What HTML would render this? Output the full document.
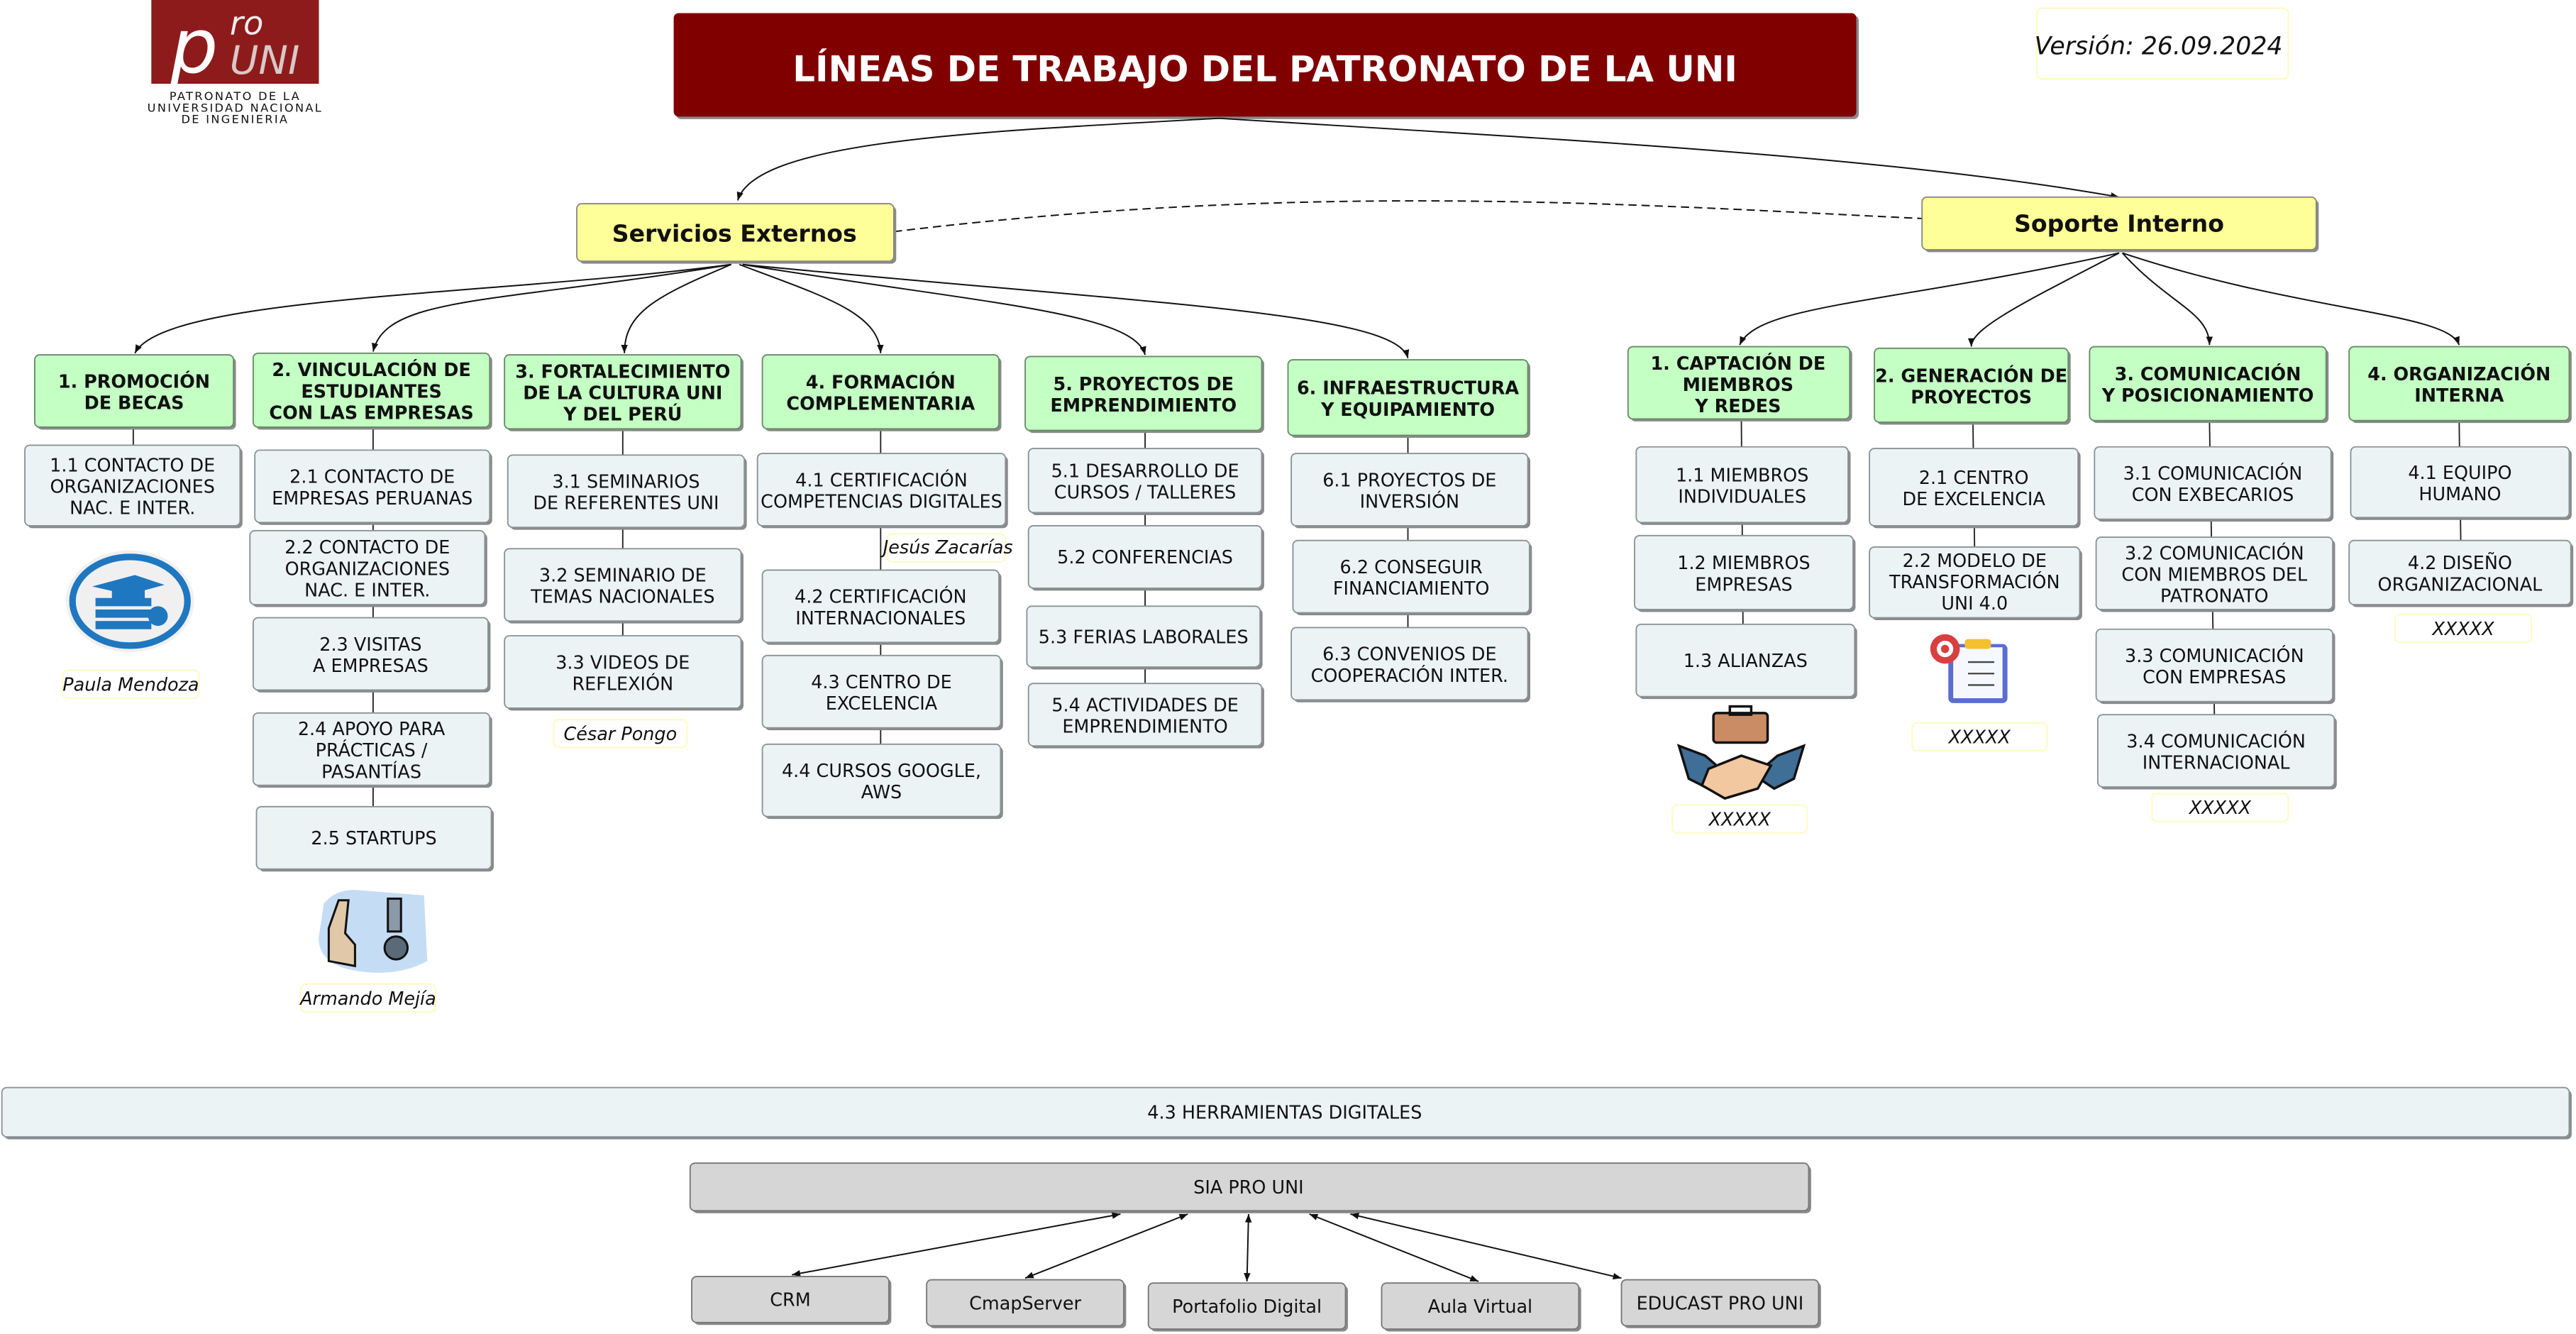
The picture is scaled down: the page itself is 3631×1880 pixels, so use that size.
<!DOCTYPE html>
<html><head><meta charset="utf-8">
<style>
html,body{margin:0;padding:0;background:#fff;}
svg{display:block;}
text{font-family:"DejaVu Sans","Liberation Sans",sans-serif;text-anchor:middle;fill:#111;}
.h{font-size:11px;font-weight:bold;}
.t{font-size:11px;}
.i{font-size:11px;font-style:italic;}
.g{fill:#c4ffc4;stroke:#6a8a6a;stroke-width:0.8;}
.l{fill:#ecf3f5;stroke:#8a9396;stroke-width:0.8;}
.y{fill:#ffff99;stroke:#888;stroke-width:0.8;}
.d{fill:#d6d6d6;stroke:#777;stroke-width:0.8;}
.n{fill:#fff;stroke:#fdfbc8;stroke-width:1;}
.s{fill:#8a8a8a;}
.c{fill:none;stroke:#111;stroke-width:0.85;}
.v{stroke:#222;stroke-width:0.8;}
</style></head>
<body>
<svg width="3631" height="1880" viewBox="0 0 1568 812" xmlns="http://www.w3.org/2000/svg">
<defs>
<marker id="a" viewBox="0 0 10 10" refX="10" refY="5" markerWidth="6" markerHeight="6" orient="auto-start-reverse"><path d="M0,1 L10,5 L0,9 z" fill="#111"/></marker>
</defs>

<!-- logo -->
<rect x="92" y="0" width="102" height="51" fill="#8e1b1b"/>
<text x="118" y="44" style="font-family:'DejaVu Sans';font-style:italic;font-size:46px;fill:#fff;">p</text>
<text x="150" y="21" style="font-family:'DejaVu Sans';font-style:italic;font-size:20px;fill:#eee;">ro</text>
<text x="161" y="45" style="font-family:'DejaVu Sans';font-style:italic;font-size:24px;fill:#d8c8c8;">UNI</text>
<text x="143" y="61" style="font-size:7px;letter-spacing:1px;">PATRONATO DE LA</text>
<text x="143" y="68" style="font-size:7px;letter-spacing:1px;">UNIVERSIDAD NACIONAL</text>
<text x="143" y="75" style="font-size:7px;letter-spacing:1px;">DE INGENIERIA</text>

<!-- title -->
<rect x="411.5" y="9.5" width="720" height="63" rx="3" class="s"/>
<rect x="410" y="8" width="720" height="63" rx="3" fill="#800000"/>
<text x="770" y="49.5" style="font-size:21.5px;font-weight:bold;fill:#fff;">LÍNEAS DE TRABAJO DEL PATRONATO DE LA UNI</text>

<rect x="1240" y="5" width="153" height="43" rx="3" class="n"/>
<text x="1314" y="33" style="font-size:15px;font-style:italic;">Versión: 26.09.2024</text>

<!-- main connectors -->
<path class="c" d="M742,72 C600,80 460,85 449,122" marker-end="url(#a)"/>
<path class="c" d="M742,72 C950,85 1150,95 1290,120" marker-end="url(#a)"/>
<path class="c" d="M544,141 C800,110 1000,125 1170,133" stroke-dasharray="5,3"/>

<!-- services arrows -->
<g class="c">
<path d="M445,161 C300,180 100,180 82,215" marker-end="url(#a)"/>
<path d="M445,161 C300,185 235,180 227,214" marker-end="url(#a)"/>
<path d="M445,161 C400,180 380,190 380,215" marker-end="url(#a)"/>
<path d="M450,161 C500,180 535,190 536,215" marker-end="url(#a)"/>
<path d="M452,161 C600,185 690,190 697,216" marker-end="url(#a)"/>
<path d="M452,161 C700,185 850,190 857,218" marker-end="url(#a)"/>
<path d="M1290,154 C1150,185 1070,185 1059,210" marker-end="url(#a)"/>
<path d="M1290,154 C1230,185 1200,200 1200,211" marker-end="url(#a)"/>
<path d="M1292,154 C1320,185 1345,190 1345,210" marker-end="url(#a)"/>
<path d="M1292,154 C1400,190 1490,190 1497,210" marker-end="url(#a)"/>
</g>

<!-- vertical tree lines -->
<g class="v">
<line x1="81" y1="260" x2="81" y2="272"/>
<line x1="227" y1="260" x2="227" y2="492"/>
<line x1="379" y1="261" x2="379" y2="388"/>
<line x1="536" y1="261" x2="536" y2="454"/>
<line x1="697" y1="262" x2="697" y2="417"/>
<line x1="857" y1="265" x2="857" y2="383"/>
<line x1="1060" y1="255" x2="1061" y2="381"/>
<line x1="1201" y1="257" x2="1202" y2="334"/>
<line x1="1345" y1="256" x2="1348" y2="436"/>
<line x1="1497" y1="256" x2="1498" y2="330"/>
</g>

<!-- yellow -->
<rect x="352.5" y="125.5" width="193" height="35" rx="3" class="s"/>
<rect x="351" y="124" width="193" height="35" rx="3" class="y"/>
<text x="447" y="147" style="font-size:14.3px;font-weight:bold;">Servicios Externos</text>
<rect x="1171.5" y="121.5" width="240" height="32" rx="3" class="s"/>
<rect x="1170" y="120" width="240" height="32" rx="3" class="y"/>
<text x="1290" y="141" style="font-size:14.3px;font-weight:bold;">Soporte Interno</text>

<!-- headers -->
<g>
<rect x="22.5" y="217.5" width="121" height="44" rx="3" class="s"/><rect x="21" y="216" width="121" height="44" rx="3" class="g"/>
<text class="h" x="81.5" y="236">1. PROMOCIÓN</text><text class="h" x="81.5" y="249">DE BECAS</text>

<rect x="155.5" y="216.5" width="144" height="45" rx="3" class="s"/><rect x="154" y="215" width="144" height="45" rx="3" class="g"/>
<text class="h" x="226" y="229">2. VINCULACIÓN DE</text><text class="h" x="226" y="242">ESTUDIANTES</text><text class="h" x="226" y="255">CON LAS EMPRESAS</text>

<rect x="308.5" y="217.5" width="144" height="45" rx="3" class="s"/><rect x="307" y="216" width="144" height="45" rx="3" class="g"/>
<text class="h" x="379" y="230">3. FORTALECIMIENTO</text><text class="h" x="379" y="243">DE LA CULTURA UNI</text><text class="h" x="379" y="256">Y DEL PERÚ</text>

<rect x="465.5" y="217.5" width="144" height="45" rx="3" class="s"/><rect x="464" y="216" width="144" height="45" rx="3" class="g"/>
<text class="h" x="536" y="236.5">4. FORMACIÓN</text><text class="h" x="536" y="249.5">COMPLEMENTARIA</text>

<rect x="625.5" y="218.5" width="144" height="45" rx="3" class="s"/><rect x="624" y="217" width="144" height="45" rx="3" class="g"/>
<text class="h" x="696" y="237.5">5. PROYECTOS DE</text><text class="h" x="696" y="250.5">EMPRENDIMIENTO</text>

<rect x="785.5" y="220.5" width="146" height="46" rx="3" class="s"/><rect x="784" y="219" width="146" height="46" rx="3" class="g"/>
<text class="h" x="857" y="240">6. INFRAESTRUCTURA</text><text class="h" x="857" y="253">Y EQUIPAMIENTO</text>

<rect x="992.5" y="212.5" width="135" height="44" rx="3" class="s"/><rect x="991" y="211" width="135" height="44" rx="3" class="g"/>
<text class="h" x="1058" y="225">1. CAPTACIÓN DE</text><text class="h" x="1058" y="238">MIEMBROS</text><text class="h" x="1058" y="251">Y REDES</text>

<rect x="1142.5" y="213.5" width="118" height="45" rx="3" class="s"/><rect x="1141" y="212" width="118" height="45" rx="3" class="g"/>
<text class="h" x="1200" y="232.5">2. GENERACIÓN DE</text><text class="h" x="1200" y="245.5">PROYECTOS</text>

<rect x="1273.5" y="212.5" width="144" height="45" rx="3" class="s"/><rect x="1272" y="211" width="144" height="45" rx="3" class="g"/>
<text class="h" x="1344" y="231.5">3. COMUNICACIÓN</text><text class="h" x="1344" y="244.5">Y POSICIONAMIENTO</text>

<rect x="1431.5" y="212.5" width="134" height="45" rx="3" class="s"/><rect x="1430" y="211" width="134" height="45" rx="3" class="g"/>
<text class="h" x="1497" y="231.5">4. ORGANIZACIÓN</text><text class="h" x="1497" y="244.5">INTERNA</text>
</g>

<!-- leaves -->
<g>
<rect x="16.5" y="272.5" width="131" height="49" rx="3" class="s"/><rect x="15" y="271" width="131" height="49" rx="3" class="l"/>
<text class="t" x="80.5" y="287">1.1 CONTACTO DE</text><text class="t" x="80.5" y="300">ORGANIZACIONES</text><text class="t" x="80.5" y="313">NAC. E INTER.</text>

<rect x="156.5" y="275.5" width="143" height="44" rx="3" class="s"/><rect x="155" y="274" width="143" height="44" rx="3" class="l"/>
<text class="t" x="226.5" y="294">2.1 CONTACTO DE</text><text class="t" x="226.5" y="307">EMPRESAS PERUANAS</text>

<rect x="153.5" y="324.5" width="143" height="45" rx="3" class="s"/><rect x="152" y="323" width="143" height="45" rx="3" class="l"/>
<text class="t" x="223.5" y="337">2.2 CONTACTO DE</text><text class="t" x="223.5" y="350">ORGANIZACIONES</text><text class="t" x="223.5" y="363">NAC. E INTER.</text>

<rect x="155.5" y="377.5" width="143" height="44" rx="3" class="s"/><rect x="154" y="376" width="143" height="44" rx="3" class="l"/>
<text class="t" x="225.5" y="396">2.3 VISITAS</text><text class="t" x="225.5" y="409">A EMPRESAS</text>

<rect x="155.5" y="435.5" width="144" height="44" rx="3" class="s"/><rect x="154" y="434" width="144" height="44" rx="3" class="l"/>
<text class="t" x="226" y="447.5">2.4 APOYO PARA</text><text class="t" x="226" y="460.5">PRÁCTICAS /</text><text class="t" x="226" y="473.5">PASANTÍAS</text>

<rect x="157.5" y="492.5" width="143" height="38" rx="3" class="s"/><rect x="156" y="491" width="143" height="38" rx="3" class="l"/>
<text class="t" x="227.5" y="514">2.5 STARTUPS</text>

<rect x="310.5" y="278.5" width="144" height="44" rx="3" class="s"/><rect x="309" y="277" width="144" height="44" rx="3" class="l"/>
<text class="t" x="381" y="297">3.1 SEMINARIOS</text><text class="t" x="381" y="310">DE REFERENTES UNI</text>

<rect x="308.5" y="335.5" width="144" height="44" rx="3" class="s"/><rect x="307" y="334" width="144" height="44" rx="3" class="l"/>
<text class="t" x="379" y="354">3.2 SEMINARIO DE</text><text class="t" x="379" y="367">TEMAS NACIONALES</text>

<rect x="308.5" y="388.5" width="144" height="44" rx="3" class="s"/><rect x="307" y="387" width="144" height="44" rx="3" class="l"/>
<text class="t" x="379" y="407">3.3 VIDEOS DE</text><text class="t" x="379" y="420">REFLEXIÓN</text>

<rect x="462.5" y="277.5" width="151" height="44" rx="3" class="s"/><rect x="461" y="276" width="151" height="44" rx="3" class="l"/>
<text class="t" x="536.5" y="296">4.1 CERTIFICACIÓN</text><text class="t" x="536.5" y="309">COMPETENCIAS DIGITALES</text>

<rect x="465.5" y="348.5" width="144" height="44" rx="3" class="s"/><rect x="464" y="347" width="144" height="44" rx="3" class="l"/>
<text class="t" x="536" y="367">4.2 CERTIFICACIÓN</text><text class="t" x="536" y="380">INTERNACIONALES</text>

<rect x="465.5" y="400.5" width="145" height="44" rx="3" class="s"/><rect x="464" y="399" width="145" height="44" rx="3" class="l"/>
<text class="t" x="536.5" y="419">4.3 CENTRO DE</text><text class="t" x="536.5" y="432">EXCELENCIA</text>

<rect x="465.5" y="454.5" width="145" height="44" rx="3" class="s"/><rect x="464" y="453" width="145" height="44" rx="3" class="l"/>
<text class="t" x="536.5" y="473">4.4 CURSOS GOOGLE,</text><text class="t" x="536.5" y="486">AWS</text>

<rect x="627.5" y="274.5" width="142" height="39" rx="3" class="s"/><rect x="626" y="273" width="142" height="39" rx="3" class="l"/>
<text class="t" x="697" y="290.5">5.1 DESARROLLO DE</text><text class="t" x="697" y="303.5">CURSOS / TALLERES</text>

<rect x="627.5" y="321.5" width="142" height="38" rx="3" class="s"/><rect x="626" y="320" width="142" height="38" rx="3" class="l"/>
<text class="t" x="697" y="343">5.2 CONFERENCIAS</text>

<rect x="626.5" y="370.5" width="142" height="37" rx="3" class="s"/><rect x="625" y="369" width="142" height="37" rx="3" class="l"/>
<text class="t" x="696" y="391.5">5.3 FERIAS LABORALES</text>

<rect x="627.5" y="417.5" width="142" height="38" rx="3" class="s"/><rect x="626" y="416" width="142" height="38" rx="3" class="l"/>
<text class="t" x="697" y="433">5.4 ACTIVIDADES DE</text><text class="t" x="697" y="446">EMPRENDIMIENTO</text>

<rect x="787.5" y="277.5" width="144" height="44" rx="3" class="s"/><rect x="786" y="276" width="144" height="44" rx="3" class="l"/>
<text class="t" x="858" y="296">6.1 PROYECTOS DE</text><text class="t" x="858" y="309">INVERSIÓN</text>

<rect x="788.5" y="330.5" width="144" height="44" rx="3" class="s"/><rect x="787" y="329" width="144" height="44" rx="3" class="l"/>
<text class="t" x="859" y="349">6.2 CONSEGUIR</text><text class="t" x="859" y="362">FINANCIAMIENTO</text>

<rect x="787.5" y="383.5" width="144" height="44" rx="3" class="s"/><rect x="786" y="382" width="144" height="44" rx="3" class="l"/>
<text class="t" x="858" y="402">6.3 CONVENIOS DE</text><text class="t" x="858" y="415">COOPERACIÓN INTER.</text>

<rect x="997.5" y="273.5" width="129" height="46" rx="3" class="s"/><rect x="996" y="272" width="129" height="46" rx="3" class="l"/>
<text class="t" x="1060.5" y="293">1.1 MIEMBROS</text><text class="t" x="1060.5" y="306">INDIVIDUALES</text>

<rect x="996.5" y="327.5" width="133" height="45" rx="3" class="s"/><rect x="995" y="326" width="133" height="45" rx="3" class="l"/>
<text class="t" x="1061.5" y="346.5">1.2 MIEMBROS</text><text class="t" x="1061.5" y="359.5">EMPRESAS</text>

<rect x="997.5" y="381.5" width="133" height="44" rx="3" class="s"/><rect x="996" y="380" width="133" height="44" rx="3" class="l"/>
<text class="t" x="1062.5" y="406">1.3 ALIANZAS</text>

<rect x="1139.5" y="274.5" width="127" height="47" rx="3" class="s"/><rect x="1138" y="273" width="127" height="47" rx="3" class="l"/>
<text class="t" x="1201.5" y="294.5">2.1 CENTRO</text><text class="t" x="1201.5" y="307.5">DE EXCELENCIA</text>

<rect x="1139.5" y="334.5" width="128" height="43" rx="3" class="s"/><rect x="1138" y="333" width="128" height="43" rx="3" class="l"/>
<text class="t" x="1202" y="345">2.2 MODELO DE</text><text class="t" x="1202" y="358">TRANSFORMACIÓN</text><text class="t" x="1202" y="371">UNI 4.0</text>

<rect x="1276.5" y="273.5" width="144" height="44" rx="3" class="s"/><rect x="1275" y="272" width="144" height="44" rx="3" class="l"/>
<text class="t" x="1347" y="292">3.1 COMUNICACIÓN</text><text class="t" x="1347" y="305">CON EXBECARIOS</text>

<rect x="1277.5" y="328.5" width="144" height="44" rx="3" class="s"/><rect x="1276" y="327" width="144" height="44" rx="3" class="l"/>
<text class="t" x="1348" y="340.5">3.2 COMUNICACIÓN</text><text class="t" x="1348" y="353.5">CON MIEMBROS DEL</text><text class="t" x="1348" y="366.5">PATRONATO</text>

<rect x="1277.5" y="384.5" width="144" height="44" rx="3" class="s"/><rect x="1276" y="383" width="144" height="44" rx="3" class="l"/>
<text class="t" x="1348" y="403">3.3 COMUNICACIÓN</text><text class="t" x="1348" y="416">CON EMPRESAS</text>

<rect x="1278.5" y="436.5" width="144" height="44" rx="3" class="s"/><rect x="1277" y="435" width="144" height="44" rx="3" class="l"/>
<text class="t" x="1349" y="455">3.4 COMUNICACIÓN</text><text class="t" x="1349" y="468">INTERNACIONAL</text>

<rect x="1432.5" y="273.5" width="133" height="43" rx="3" class="s"/><rect x="1431" y="272" width="133" height="43" rx="3" class="l"/>
<text class="t" x="1497.5" y="291.5">4.1 EQUIPO</text><text class="t" x="1497.5" y="304.5">HUMANO</text>

<rect x="1431.5" y="330.5" width="135" height="39" rx="3" class="s"/><rect x="1430" y="329" width="135" height="39" rx="3" class="l"/>
<text class="t" x="1497.5" y="346.5">4.2 DISEÑO</text><text class="t" x="1497.5" y="359.5">ORGANIZACIONAL</text>
</g>

<!-- name labels -->
<rect x="540" y="325" width="72" height="17" rx="3" class="n"/><text class="i" x="577" y="337">Jesús Zacarías</text>
<rect x="38" y="408" width="83" height="17" rx="3" class="n"/><text class="i" x="79.5" y="420.5">Paula Mendoza</text>
<rect x="337" y="438" width="81" height="17" rx="3" class="n"/><text class="i" x="377.5" y="450.5">César Pongo</text>
<rect x="183" y="599" width="82" height="17" rx="3" class="n"/><text class="i" x="224" y="611.5">Armando Mejía</text>
<rect x="1458" y="374" width="83" height="17" rx="3" class="n"/><text class="i" x="1499.5" y="386.5">XXXXX</text>
<rect x="1310" y="483" width="83" height="17" rx="3" class="n"/><text class="i" x="1351.5" y="495.5">XXXXX</text>
<rect x="1164" y="440" width="82" height="17" rx="3" class="n"/><text class="i" x="1205" y="452.5">XXXXX</text>
<rect x="1018" y="490" width="82" height="17" rx="3" class="n"/><text class="i" x="1059" y="502.5">XXXXX</text>

<!-- icons -->
<ellipse cx="79" cy="366" rx="39" ry="31" fill="#f0f0f0"/>
<ellipse cx="79" cy="366" rx="35" ry="27" fill="none" stroke="#1f77c0" stroke-width="4"/>
<rect x="58" y="378" width="34" height="5" fill="#1f77c0"/><rect x="58" y="371" width="34" height="5" fill="#1f77c0"/><rect x="58" y="364" width="34" height="5" fill="#1f77c0"/>
<path d="M56,357 L82,350 L100,356 L78,362 z" fill="#1f77c0"/>
<rect x="68" y="358" width="20" height="7" fill="#1f77c0"/>
<circle cx="96" cy="375" r="6" fill="#1f77c0"/>

<rect x="1043" y="434" width="33" height="18" rx="2" fill="#c98c64" stroke="#111" stroke-width="1.5"/>
<rect x="1053" y="430" width="13" height="5" fill="none" stroke="#111" stroke-width="1.5"/>
<path d="M1022,454 L1038,460 L1052,472 L1040,480 L1028,474 z" fill="#3f6e96" stroke="#111" stroke-width="1.5"/>
<path d="M1098,454 L1082,460 L1068,472 L1080,480 L1092,474 z" fill="#3f6e96" stroke="#111" stroke-width="1.5"/>
<path d="M1040,468 L1060,460 L1078,466 L1070,480 L1050,486 L1036,478 z" fill="#f2c8a0" stroke="#111" stroke-width="1.5"/>

<rect x="1186" y="392" width="36" height="36" rx="3" fill="#5b6ed0"/>
<rect x="1189" y="394" width="30" height="31" fill="#f6f8ff"/>
<rect x="1196" y="389" width="16" height="6" rx="2" fill="#f3c02f"/>
<line x1="1198" y1="403" x2="1214" y2="403" stroke="#444"/><line x1="1198" y1="410" x2="1214" y2="410" stroke="#444"/><line x1="1198" y1="417" x2="1214" y2="417" stroke="#444"/>
<circle cx="1184" cy="395" r="9" fill="#d84040"/><circle cx="1184" cy="395" r="5" fill="#fff"/><circle cx="1184" cy="395" r="2.5" fill="#d84040"/>

<path d="M197,550 Q205,540 220,542 L258,545 L260,585 Q240,596 212,590 Q193,585 194,570 z" fill="#c5dcf5"/>
<path d="M200,585 L200,565 L206,548 L212,548 L210,568 L216,575 L216,588 z" fill="#e0c8a8" stroke="#111" stroke-width="1.3"/>
<rect x="236" y="547" width="8" height="20" fill="#8a9aa8" stroke="#111" stroke-width="1.3"/>
<circle cx="241" cy="577" r="7" fill="#5a6a78" stroke="#111" stroke-width="1.3"/>

<!-- bottom -->
<rect x="2.5" y="663.5" width="1563" height="30" rx="3" class="s"/>
<rect x="1" y="662" width="1563" height="30" rx="3" class="l"/>
<text class="t" x="782" y="681">4.3 HERRAMIENTAS DIGITALES</text>

<rect x="421.5" y="709.5" width="681" height="29" rx="3" class="s"/>
<rect x="420" y="708" width="681" height="29" rx="3" class="d"/>
<text class="t" x="760" y="726.5">SIA PRO UNI</text>

<g class="c">
<line x1="682" y1="739" x2="482" y2="776" marker-start="url(#a)" marker-end="url(#a)"/>
<line x1="723" y1="739" x2="624" y2="778" marker-start="url(#a)" marker-end="url(#a)"/>
<line x1="760" y1="739" x2="759" y2="780" marker-start="url(#a)" marker-end="url(#a)"/>
<line x1="797" y1="739" x2="900" y2="780" marker-start="url(#a)" marker-end="url(#a)"/>
<line x1="822" y1="739" x2="987" y2="778" marker-start="url(#a)" marker-end="url(#a)"/>
</g>

<rect x="422.5" y="778.5" width="120" height="28" rx="3" class="s"/><rect x="421" y="777" width="120" height="28" rx="3" class="d"/><text class="t" x="481" y="795">CRM</text>
<rect x="565.5" y="780.5" width="120" height="28" rx="3" class="s"/><rect x="564" y="779" width="120" height="28" rx="3" class="d"/><text class="t" x="624" y="797">CmapServer</text>
<rect x="700.5" y="782.5" width="120" height="28" rx="3" class="s"/><rect x="699" y="781" width="120" height="28" rx="3" class="d"/><text class="t" x="759" y="799">Portafolio Digital</text>
<rect x="842.5" y="782.5" width="120" height="28" rx="3" class="s"/><rect x="841" y="781" width="120" height="28" rx="3" class="d"/><text class="t" x="901" y="799">Aula Virtual</text>
<rect x="988.5" y="780.5" width="120" height="28" rx="3" class="s"/><rect x="987" y="779" width="120" height="28" rx="3" class="d"/><text class="t" x="1047" y="797">EDUCAST PRO UNI</text>
</svg>
</body></html>
